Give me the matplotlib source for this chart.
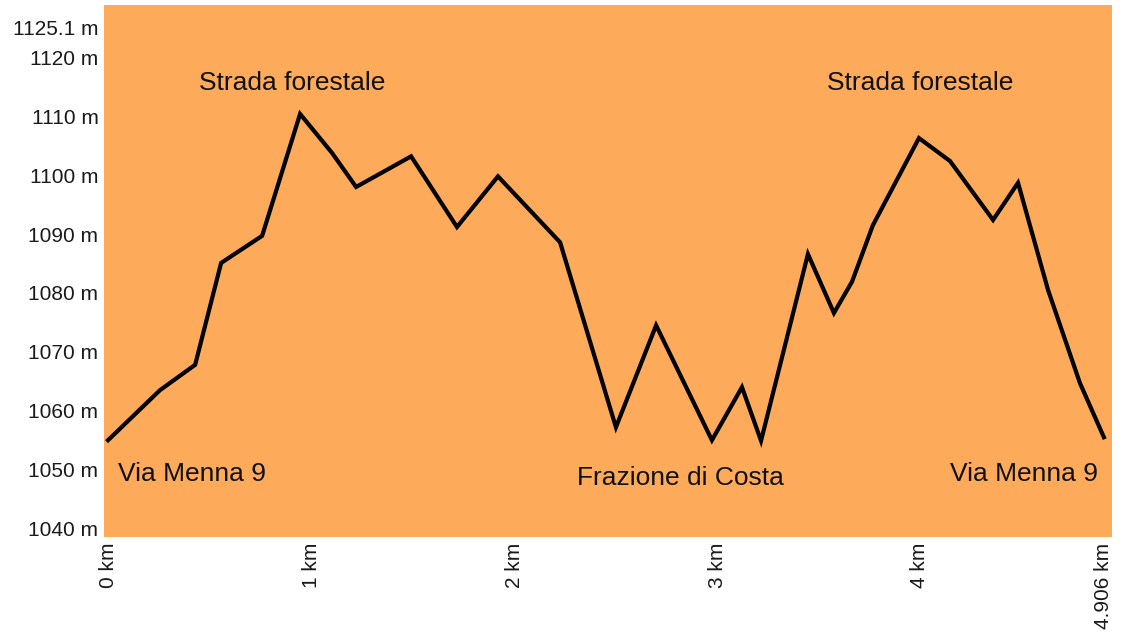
"""Elevation profile: Via Menna 9 loop via Strada forestale and Frazione di Costa."""

import matplotlib

matplotlib.use("Agg")
import matplotlib.pyplot as plt

# Distance [km] and elevation [m]
distance_km = [
    0.0, 0.256, 0.429, 0.557, 0.759, 0.946, 1.103, 1.222, 1.493, 1.719,
    1.921, 2.227, 2.502, 2.700, 2.975, 3.123, 3.217, 3.448, 3.576, 3.665,
    3.768, 3.995, 4.148, 4.360, 4.483, 4.631, 4.788, 4.906,
]
elevation_m = [
    1055.0, 1063.5, 1067.8, 1085.1, 1089.7, 1110.4, 1103.8, 1098.0, 1103.2, 1091.2,
    1099.8, 1088.6, 1057.2, 1074.5, 1055.0, 1064.0, 1054.9, 1086.6, 1076.6, 1081.9,
    1091.5, 1106.3, 1102.4, 1092.4, 1098.7, 1080.5, 1064.7, 1055.5,
]

y_ticks = [1040, 1050, 1060, 1070, 1080, 1090, 1100, 1110, 1120, 1125.1]
y_tick_labels = ["1040 m", "1050 m", "1060 m", "1070 m", "1080 m", "1090 m",
                 "1100 m", "1110 m", "1120 m", "1125.1 m"]
x_ticks = [0, 1, 2, 3, 4, 4.906]
x_tick_labels = ["0 km", "1 km", "2 km", "3 km", "4 km", "4.906 km"]

place_names = ["Strada forestale", "Strada forestale", "Via Menna 9",
               "Frazione di Costa", "Via Menna 9"]
place_x = [0.906, 4.0, 0.416, 2.82, 4.51]
place_y = [1115.6, 1115.6, 1049.3, 1048.6, 1049.3]

plt.rcParams["font.family"] = ["Liberation Sans", "DejaVu Sans"]

fig = plt.figure(figsize=(11.25, 6.37), dpi=100)
ax = fig.add_axes([104 / 1125, 1 - 537 / 637, (1112 - 104) / 1125, (537 - 5) / 637])
ax.set_facecolor("#FDAA5A")

ax.plot(distance_km, elevation_m, color="black", linewidth=3.0,
        solid_joinstyle="miter")

for name, x, y in zip(place_names, place_x, place_y, strict=True):
    ax.text(x, y, name, ha="center", va="center", fontsize=19, color="#111111")

ax.set_xlim(-0.02, 4.946)
ax.set_ylim(1038.56, 1128.9)

ax.set_yticks(y_ticks)
ax.set_yticklabels(y_tick_labels, fontsize=15, color="#1a1a1a")
ax.set_xticks(x_ticks)
ax.set_xticklabels(x_tick_labels, fontsize=15, color="#1a1a1a", rotation=90)
ax.tick_params(axis="both", length=0, pad=4)

for spine in ax.spines.values():
    spine.set_visible(False)

fig.savefig("out.png", dpi=100)
plt.close(fig)
